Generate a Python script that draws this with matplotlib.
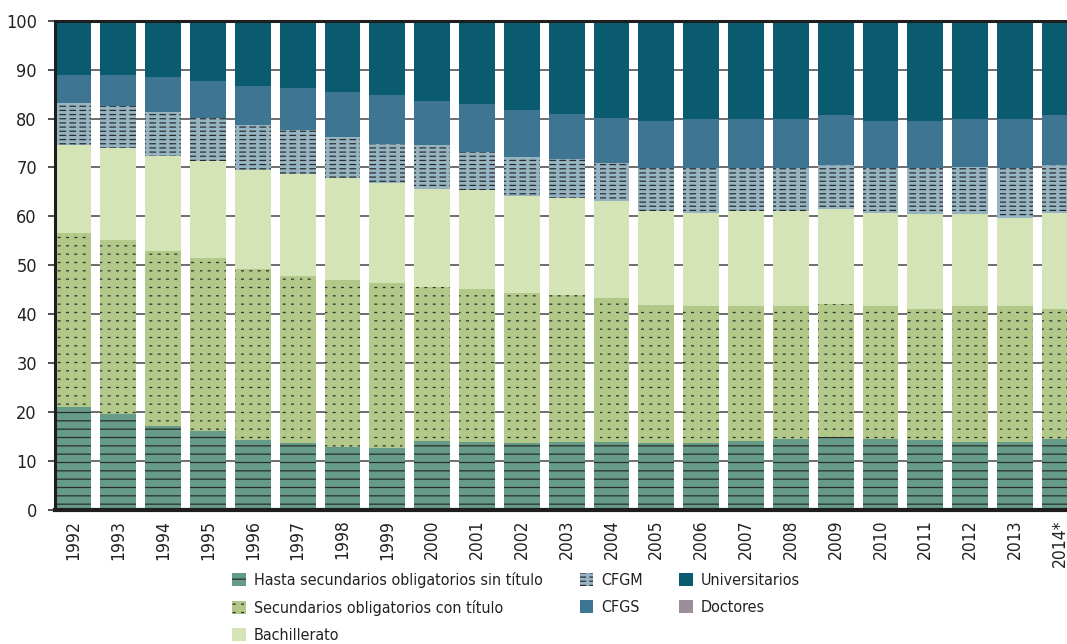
import warnings
import numpy as np
import matplotlib
matplotlib.use("Agg")
import matplotlib.pyplot as plt
import matplotlib.hatch as mhatch
from matplotlib.path import Path

warnings.filterwarnings("ignore")

# Datos: porcentaje de población por nivel de estudios
years = ['1992', '1993', '1994', '1995', '1996', '1997', '1998', '1999', '2000', '2001', '2002',
         '2003', '2004', '2005', '2006', '2007', '2008', '2009', '2010', '2011', '2012', '2013', '2014*']
hasta_sin_titulo = [21.0, 19.6, 17.2, 16.1, 14.3, 13.6, 12.8, 12.7, 14.2, 13.9, 13.6,
                    13.9, 13.9, 13.6, 13.6, 14.2, 14.6, 15.0, 14.6, 14.3, 13.9, 13.9, 14.6]
secundarios_con_titulo = [35.7, 35.6, 35.7, 35.5, 35.0, 34.2, 34.2, 33.6, 31.4, 31.3, 30.7,
                          30.1, 29.5, 28.3, 28.0, 27.4, 27.0, 27.2, 27.0, 26.8, 27.7, 27.7, 26.5]
bachillerato = [17.9, 18.7, 19.4, 19.7, 20.1, 20.9, 20.9, 20.5, 20.1, 20.1, 19.9,
                19.8, 19.7, 19.3, 19.2, 19.6, 19.6, 19.4, 19.2, 19.4, 18.9, 18.1, 19.7]
cfgm = [8.6, 8.6, 9.0, 8.9, 9.3, 9.0, 8.3, 7.9, 8.8, 7.9, 7.9,
        7.9, 7.8, 8.6, 9.0, 8.6, 8.6, 9.0, 9.0, 9.3, 9.7, 10.1, 9.8]
cfgs = [5.7, 6.4, 7.1, 7.5, 7.9, 8.5, 9.2, 10.1, 9.1, 9.8, 9.6,
        9.3, 9.3, 9.6, 10.1, 10.1, 10.1, 10.1, 9.7, 9.7, 9.7, 10.1, 10.1]
universitarios = [11.1, 11.1, 11.6, 12.3, 13.4, 13.8, 14.6, 15.2, 16.4, 17.0, 18.3,
                  19.0, 19.8, 20.2, 19.7, 20.1, 20.1, 19.3, 20.5, 20.1, 20.1, 20.1, 19.3]
doctores = [0, 0, 0, 0, 0, 0, 0, 0, 0, 0, 0,
            0, 0, 0.4, 0.4, 0, 0, 0, 0, 0.4, 0, 0, 0]

labels = ['Hasta secundarios obligatorios sin título', 'Secundarios obligatorios con título',
          'Bachillerato', 'CFGM', 'CFGS', 'Universitarios', 'Doctores']
colors = ['#669b88', '#b1c889', '#d4e4b7', '#97b4c2', '#3e7593', '#0a5b6f', '#9d8e9b']
hatches = ['--', ':', None, '=', None, None, None]


# Tramas propias: '=' rayas discontinuas, ':' puntos en rejilla
def make_hatch(char, rows, cols, frac):
    class GridHatch(mhatch.HatchPatternBase):
        def __init__(self, hatch, density):
            n = hatch.count(char)
            self.num_rows = rows * n
            self.num_cols = cols * n
            self.num_lines = self.num_rows * self.num_cols
            self.num_vertices = self.num_lines * 2

        def set_vertices_and_codes(self, vertices, codes):
            ys = (np.arange(self.num_rows) + 0.5) / self.num_rows
            xs = np.arange(self.num_cols) / self.num_cols
            X, Y = np.meshgrid(xs, ys)
            X = X.ravel()
            Y = Y.ravel()
            vertices[0::2, 0] = X
            vertices[0::2, 1] = Y
            vertices[1::2, 0] = X + frac / self.num_cols
            vertices[1::2, 1] = Y
            codes[0::2] = Path.MOVETO
            codes[1::2] = Path.LINETO
    return GridHatch


mhatch._hatch_types.append(make_hatch('=', 24, 10, 0.55))
mhatch._hatch_types.append(make_hatch(':', 12, 12, 0.2))

plt.rcParams['font.family'] = ['DejaVu Sans']
plt.rcParams['font.stretch'] = 'condensed'
plt.rcParams['hatch.linewidth'] = 0.9

fig = plt.figure(figsize=(10.67, 6.44), dpi=100)
ax = fig.add_axes([55 / 1067, 134 / 644, 1 - 55 / 1067, (510 - 20.7) / 644])

series = [hasta_sin_titulo, secundarios_con_titulo, bachillerato, cfgm, cfgs, universitarios, doctores]
x = np.arange(len(years))
bottom = np.zeros(len(years))
for vals, lab, col, hat in zip(series, labels, colors, hatches):
    vals = np.array(vals)
    if hat:
        ax.bar(x, vals, 0.8, bottom=bottom, color=col, edgecolor='#2a2f2e', linewidth=0,
               hatch=hat, label=lab, zorder=3)
    else:
        ax.bar(x, vals, 0.8, bottom=bottom, color=col, linewidth=0, label=lab, zorder=3)
    bottom += vals

ax.set_xlim(-0.413, 22.16)
ax.set_ylim(0, 100)
ax.set_yticks(range(0, 101, 10))
ax.set_xticks(x)
ax.set_xticklabels(years, rotation=90, fontsize=12.5, color='#222222')
ax.tick_params(axis='x', length=0, pad=7)
ax.tick_params(axis='y', length=5, width=1.2, color='#333333', labelsize=13, labelcolor='#222222', pad=8)
ax.set_axisbelow(True)
ax.yaxis.grid(True, color='#555555', linewidth=1.2)

for s in ['left', 'top', 'bottom']:
    ax.spines[s].set_color('#1e1e1e')
    ax.spines[s].set_zorder(4)
ax.spines['left'].set_linewidth(2.2)
ax.spines['top'].set_linewidth(2.2)
ax.spines['bottom'].set_linewidth(3)
ax.spines['right'].set_visible(False)

fig.legend(loc='upper left', bbox_to_anchor=(226 / 1067, 1 - 566 / 644), ncol=3, frameon=False,
           fontsize=11.5, handlelength=0.85, handleheight=0.85, handletextpad=0.5,
           columnspacing=2.3, labelspacing=0.75, labelcolor='#222222', borderaxespad=0)

fig.savefig('out.png', dpi=100)
